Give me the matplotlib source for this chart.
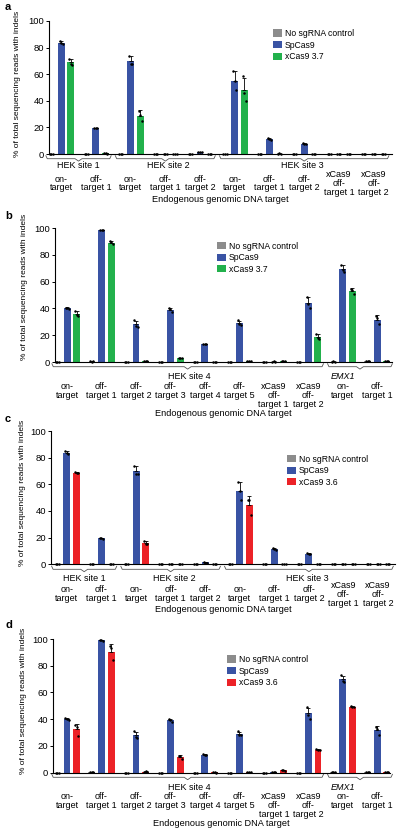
import numpy as np
import matplotlib.pyplot as plt

plt.rcParams['font.family'] = ['Liberation Sans', 'DejaVu Sans']

FIG_W, FIG_H = 400, 830

GRAY = '#8c8c8c'
BLUE = '#3953a4'
GREEN = '#22b14c'
RED = '#ec2227'

# ---------------------------------------------------------------------------
# data: three replicates per bar (% of reads with indels)
# ---------------------------------------------------------------------------
LABELS_AC = ["on-\ntarget", "off-\ntarget 1", "on-\ntarget", "off-\ntarget 1",
             "off-\ntarget 2", "on-\ntarget", "off-\ntarget 1", "off-\ntarget 2",
             "xCas9\noff-\ntarget 1", "xCas9\noff-\ntarget 2"]
SITES_AC = [("HEK site 1", 0, 1, 0.5), ("HEK site 2", 2, 4, 3.1),
            ("HEK site 3", 5, 9, 6.95)]

LABELS_BD = ["on-\ntarget", "off-\ntarget 1", "off-\ntarget 2", "off-\ntarget 3",
             "off-\ntarget 4", "off-\ntarget 5", "xCas9\noff-\ntarget 1",
             "xCas9\noff-\ntarget 2", "on-\ntarget", "off-\ntarget 1"]
SITES_BD = [("HEK site 4", 0, 7, 3.55), ("EMX1", 8, 9, 8.0)]

A_GRAY = [[0.1, 0.0, 0.1], [0.1, 0.0, 0.1], [0.0, 0.1, 0.1], [0.1, 0.1, 0.0],
          [0.1, 0.0, 0.0], [0.0, 0.1, 0.1], [0.1, 0.0, 0.1], [0.0, 0.1, 0.1],
          [0.1, 0.0, 0.1], [0.0, 0.1, 0.0]]
A_SPCAS9 = [[85.0, 83.2, 83.0], [19.6, 19.3, 19.2], [74.0, 68.0, 67.5],
            [0.3, 0.2, 0.3], [1.6, 1.2, 1.2], [62.3, 55.0, 48.3],
            [12.0, 11.0, 10.2], [8.3, 7.6, 7.5], [0.2, 0.1, 0.2],
            [0.2, 0.1, 0.2]]
A_XCAS9_37 = [[71.5, 68.0, 67.0], [0.4, 0.5, 0.3], [32.5, 29.5, 24.5],
              [0.2, 0.2, 0.1], [0.2, 0.1, 0.2], [58.5, 45.5, 40.0],
              [0.3, 0.4, 0.3], [0.3, 0.2, 0.3], [0.2, 0.1, 0.2],
              [0.1, 0.2, 0.2]]

B_GRAY = [[0.1, 0.0, 0.1], [0.4, 0.3, 0.4], [0.1, 0.0, 0.1], [0.1, 0.1, 0.0],
          [0.1, 0.0, 0.1], [0.0, 0.1, 0.1], [0.1, 0.0, 0.1], [0.0, 0.1, 0.1],
          [0.3, 0.4, 0.3], [0.5, 0.6, 0.5]]
B_SPCAS9 = [[40.6, 40.2, 39.4], [98.7, 98.5, 98.3], [31.0, 27.0, 26.0],
            [40.0, 39.2, 37.6], [13.8, 13.6, 13.4], [31.0, 28.0, 27.5],
            [0.3, 0.4, 0.3], [48.7, 43.0, 40.5], [72.5, 69.0, 67.0],
            [34.0, 32.8, 28.0]]
B_XCAS9_37 = [[38.0, 35.2, 34.5], [90.2, 89.3, 88.0], [0.5, 0.6, 0.5],
              [3.2, 2.8, 2.7], [0.2, 0.2, 0.1], [0.5, 0.6, 0.4],
              [0.8, 0.5, 0.5], [21.0, 18.0, 17.0], [54.5, 54.0, 51.0],
              [0.5, 0.6, 0.5]]

C_GRAY = [[0.1, 0.0, 0.1], [0.1, 0.0, 0.1], [0.0, 0.1, 0.1], [0.1, 0.1, 0.0],
          [0.1, 0.0, 0.0], [0.0, 0.1, 0.1], [0.1, 0.0, 0.1], [0.0, 0.1, 0.1],
          [0.1, 0.0, 0.1], [0.0, 0.1, 0.0]]
C_SPCAS9 = [[85.0, 83.5, 83.0], [19.6, 19.4, 19.2], [74.0, 68.0, 67.5],
            [0.3, 0.2, 0.3], [1.6, 1.3, 1.2], [62.0, 55.0, 48.5],
            [12.3, 11.2, 10.5], [8.3, 7.8, 7.6], [0.2, 0.1, 0.2],
            [0.2, 0.1, 0.2]]
C_XCAS9_36 = [[69.0, 68.8, 68.6], [0.5, 0.6, 0.4], [17.8, 15.3, 15.0],
              [0.2, 0.1, 0.2], [0.2, 0.2, 0.1], [48.5, 48.0, 37.0],
              [0.4, 0.5, 0.4], [0.3, 0.3, 0.2], [0.2, 0.1, 0.2],
              [0.1, 0.2, 0.2]]

D_GRAY = [[0.1, 0.0, 0.1], [0.4, 0.3, 0.4], [0.1, 0.0, 0.1], [0.1, 0.1, 0.0],
          [0.1, 0.0, 0.1], [0.0, 0.1, 0.1], [0.1, 0.0, 0.1], [0.0, 0.1, 0.1],
          [0.3, 0.4, 0.3], [0.5, 0.6, 0.5]]
D_SPCAS9 = [[40.8, 40.2, 39.6], [99.2, 99.0, 98.8], [31.0, 27.0, 26.3],
            [40.3, 39.3, 38.0], [13.8, 13.6, 13.4], [31.0, 28.5, 28.0],
            [0.3, 0.4, 0.3], [49.0, 43.5, 40.5], [72.8, 68.8, 68.0],
            [34.0, 33.0, 28.0]]
D_XCAS9_36 = [[35.5, 34.0, 27.5], [94.5, 93.0, 84.0], [0.8, 0.9, 0.7],
              [12.8, 12.3, 10.5], [0.2, 0.2, 0.1], [0.5, 0.6, 0.4],
              [2.2, 1.8, 1.5], [17.8, 17.2, 17.0], [49.6, 49.4, 49.2],
              [0.5, 0.6, 0.5]]

# ---------------------------------------------------------------------------
# layout (pixels in the 400x830 figure)
# ---------------------------------------------------------------------------
PANELS = [
    dict(letter='a', letter_y=7, box=(49, 21, 392, 154), xlim=(-0.35, 9.53),
         data=(A_GRAY, A_SPCAS9, A_XCAS9_37), color=GREEN, name='xCas9 3.7',
         labels=LABELS_AC, sites=SITES_AC, legend=(273, 29),
         brace=4.7, site_y=12, cat_y=29.5, cat_va='center', xlab_y=45,
         ylab=(21, 0.525)),
    dict(letter='b', letter_y=215.7, box=(55, 228, 392, 362), xlim=(-0.35, 9.43),
         data=(B_GRAY, B_SPCAS9, B_XCAS9_37), color=GREEN, name='xCas9 3.7',
         labels=LABELS_BD, sites=SITES_BD, legend=(217, 241.5),
         brace=4.7, site_y=14.5, cat_y=20, cat_va='top', xlab_y=51,
         ylab=(28, 0.56)),
    dict(letter='c', letter_y=419, box=(51, 431, 395, 564.3), xlim=(-0.46, 9.49),
         data=(C_GRAY, C_SPCAS9, C_XCAS9_36), color=RED, name='xCas9 3.6',
         labels=LABELS_AC, sites=SITES_AC, legend=(287, 454.5),
         brace=5, site_y=14, cat_y=30, cat_va='center', xlab_y=45,
         ylab=(26.5, 0.535)),
    dict(letter='d', letter_y=625, box=(52.7, 639, 390, 772.7), xlim=(-0.415, 9.37),
         data=(D_GRAY, D_SPCAS9, D_XCAS9_36), color=RED, name='xCas9 3.6',
         labels=LABELS_BD, sites=SITES_BD, legend=(227, 655),
         brace=4.6, site_y=14.7, cat_y=19, cat_va='top', xlab_y=50.5,
         ylab=(27, 0.54)),
]

OFFSETS = [-0.28, 0.0, 0.28]
JITTER = [-0.045, 0.0, 0.045]


def draw_panel(fig, p):
    x0, y0, x1, y1 = p['box']
    w_px, h_px = x1 - x0, y1 - y0
    ax = fig.add_axes([x0 / FIG_W, 1 - y1 / FIG_H, w_px / FIG_W, h_px / FIG_H])
    trans = ax.get_xaxis_transform()

    def below(px):
        return -px / h_px

    groups = np.arange(len(p['labels']))
    colors = [GRAY, BLUE, p['color']]
    names = ['No sgRNA control', 'SpCas9', p['name']]
    handles = []
    for k, reps in enumerate(p['data']):
        reps = np.array(reps)
        mean = reps.mean(axis=1)
        sd = reps.std(axis=1, ddof=1)
        xs = groups + OFFSETS[k]
        bars = ax.bar(xs, mean, width=0.2, color=colors[k], zorder=2,
                      label=names[k])
        handles.append(bars)
        ax.errorbar(xs, mean, yerr=[np.zeros_like(sd), sd], fmt='none',
                    ecolor='black', elinewidth=0.6, capsize=1.4,
                    capthick=0.6, zorder=3)
        for j in range(reps.shape[1]):
            ax.scatter(xs + JITTER[j], reps[:, j], s=3.2, color='black',
                       linewidths=0, zorder=4, clip_on=False)

    ax.set_xlim(*p['xlim'])
    ax.set_ylim(0, 100)
    ax.set_yticks(range(0, 101, 20))
    ax.set_xticks([])
    for side in ('top', 'right'):
        ax.spines[side].set_visible(False)
    for side in ('left', 'bottom'):
        ax.spines[side].set_linewidth(0.8)
    ax.tick_params(axis='y', labelsize=6.8, length=2.5, width=0.7, pad=1)
    ax.set_ylabel('% of total sequencing reads with indels', fontsize=6)
    ax.yaxis.set_label_coords((p['ylab'][0] - x0) / w_px, p['ylab'][1])

    # legend
    lx, ly = p['legend']
    ax.legend(handles=handles, loc='upper left', frameon=False,
              bbox_to_anchor=((lx - x0) / w_px, (y1 - ly) / h_px),
              borderpad=0, borderaxespad=0, fontsize=6.2, handlelength=1.0,
              handleheight=0.9, handletextpad=0.35, labelspacing=0.3)

    # category labels
    for g, lab in zip(groups, p['labels']):
        ax.text(g, below(p['cat_y']), lab, transform=trans, ha='center',
                va=p['cat_va'], fontsize=6.5, linespacing=1.0)

    # site braces and names
    yb = below(p['brace'])
    hb = 3.0 / h_px
    for name, first, last, xt in p['sites']:
        a, b = first - 0.44, last + 0.44
        c = (a + b) / 2
        ax.plot([a, a + 0.04, c - 0.1, c, c + 0.1, b - 0.04, b],
                [yb + hb, yb, yb, yb - hb * 0.8, yb, yb, yb + hb],
                transform=trans, color='#555555', lw=0.6, clip_on=False)
        ax.text(xt, below(p['site_y']), name, transform=trans, ha='center',
                va='center', fontsize=6.5,
                style='italic' if name == 'EMX1' else 'normal')

    ax.text(0.5, below(p['xlab_y']), 'Endogenous genomic DNA target',
            transform=ax.transAxes, ha='center', va='center', fontsize=6.6)

    fig.text(5 / FIG_W, 1 - p['letter_y'] / FIG_H, p['letter'],
             fontsize=8, fontweight='bold', ha='left', va='center')
    return ax


def main():
    fig = plt.figure(figsize=(FIG_W / 100, FIG_H / 100), dpi=100)
    for p in PANELS:
        draw_panel(fig, p)
    fig.savefig('out.png', dpi=100)
    plt.close(fig)


if __name__ == '__main__':
    main()
